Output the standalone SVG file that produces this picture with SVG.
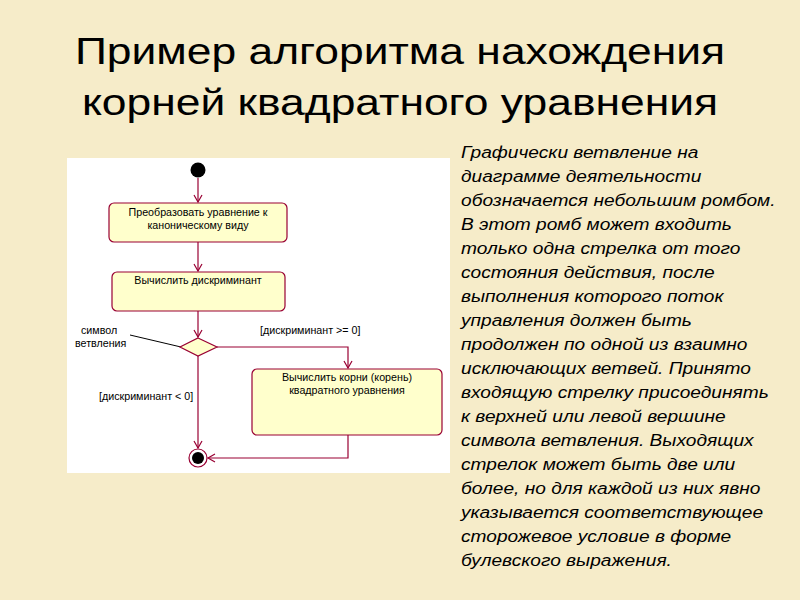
<svg xmlns="http://www.w3.org/2000/svg" width="800" height="600" viewBox="0 0 800 600">
<defs>
<style>
.box{fill:#ffffcc;stroke:#990033;stroke-width:1.2}
.c{fill:none;stroke:#990033;stroke-width:1.2}
.t{font-family:"Liberation Sans",Arial,sans-serif;font-size:10.7px;fill:#000}
.side{font-family:"Liberation Sans",Arial,sans-serif;font-size:16.5px;font-style:italic;fill:#000}
.title{font-family:"Liberation Sans",Arial,sans-serif;font-size:37px;fill:#000;text-anchor:middle}
</style>
<marker id="a" markerWidth="10" markerHeight="10" refX="8" refY="5" orient="auto" markerUnits="userSpaceOnUse">
<path d="M1,1 L8,5 L1,9" fill="none" stroke="#990033" stroke-width="1.2"/>
</marker>
</defs>
<rect width="800" height="600" fill="#f6ecc9"/>
<g transform="translate(400,0) scale(1.2,1)">
<text class="title" x="0" y="64">Пример алгоритма нахождения</text>
<text class="title" x="0" y="115">корней квадратного уравнения</text>
</g>
<rect x="67" y="158" width="383" height="315" fill="#ffffff"/>
<g id="connectors">
<line class="c" x1="198" y1="178" x2="198" y2="202" marker-end="url(#a)"/>
<line class="c" x1="198" y1="242" x2="198" y2="271" marker-end="url(#a)"/>
<line class="c" x1="198" y1="311" x2="198" y2="337" marker-end="url(#a)"/>
<polyline class="c" points="217,347 348,347 348,368" marker-end="url(#a)"/>
<line class="c" x1="198" y1="356" x2="198" y2="448" marker-end="url(#a)"/>
<polyline class="c" points="348,435 348,458 208,458" marker-end="url(#a)"/>
<line x1="130" y1="335" x2="181" y2="347" stroke="#000" stroke-width="1"/>
<text class="t" x="260" y="334">[дискриминант &gt;= 0]</text>
<text class="t" x="99" y="400">[дискриминант &lt; 0]</text>
</g>
<g id="start"><circle cx="198" cy="170" r="7.5" fill="#000"/></g>
<g id="n1"><rect class="box" x="109" y="203" width="178" height="39" rx="5"/>
<text class="t" x="198" y="216" text-anchor="middle">Преобразовать уравнение к</text>
<text class="t" x="198" y="229" text-anchor="middle">каноническому виду</text></g>
<g id="n2"><rect class="box" x="112" y="272" width="173" height="39" rx="5"/>
<text class="t" x="198" y="284" text-anchor="middle">Вычислить дискриминант</text></g>
<g id="decision"><polygon class="box" points="198,338 217,347 198,356 180,347"/></g>
<g id="note"><text class="t" x="81" y="334">символ</text><text class="t" x="75" y="347">ветвления</text></g>
<g id="n3"><rect class="box" x="252" y="369" width="190" height="66" rx="5"/>
<text class="t" x="347" y="381" text-anchor="middle">Вычислить корни (корень)</text>
<text class="t" x="347" y="394" text-anchor="middle">квадратного уравнения</text></g>
<g id="end"><circle cx="198" cy="458" r="9" fill="#fff" stroke="#990033" stroke-width="1.2"/><circle cx="198" cy="458" r="6" fill="#000"/></g>
<g id="side" transform="translate(461,0) scale(1.16,1)">
<text class="side" x="0" y="158">Графически ветвление на</text>
<text class="side" x="0" y="182">диаграмме деятельности</text>
<text class="side" x="0" y="206">обозначается небольшим ромбом.</text>
<text class="side" x="0" y="230">В этот ромб может входить</text>
<text class="side" x="0" y="254">только одна стрелка от того</text>
<text class="side" x="0" y="278">состояния действия, после</text>
<text class="side" x="0" y="302">выполнения которого поток</text>
<text class="side" x="0" y="326">управления должен быть</text>
<text class="side" x="0" y="350">продолжен по одной из взаимно</text>
<text class="side" x="0" y="374">исключающих ветвей. Принято</text>
<text class="side" x="0" y="398">входящую стрелку присоединять</text>
<text class="side" x="0" y="422">к верхней или левой вершине</text>
<text class="side" x="0" y="446">символа ветвления. Выходящих</text>
<text class="side" x="0" y="470">стрелок может быть две или</text>
<text class="side" x="0" y="494">более, но для каждой из них явно</text>
<text class="side" x="0" y="518">указывается соответствующее</text>
<text class="side" x="0" y="542">сторожевое условие в форме</text>
<text class="side" x="0" y="566">булевского выражения.</text>
</g>
</svg>
